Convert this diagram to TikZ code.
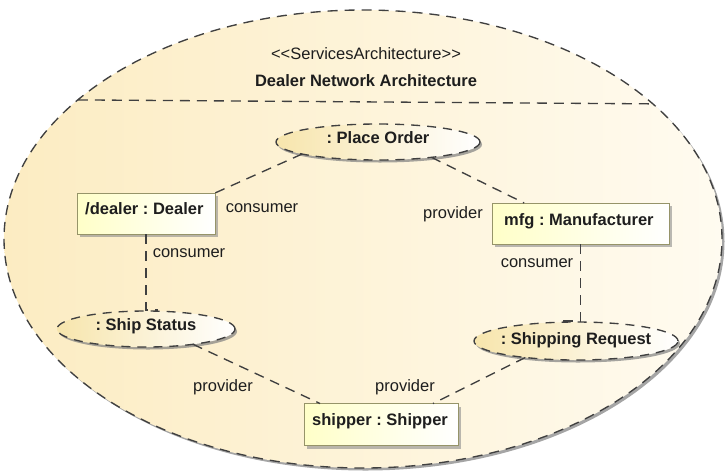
\documentclass[tikz,border=0pt]{standalone}
\usepackage{fontspec}
\setmainfont{Liberation Sans}
\usetikzlibrary{shapes.geometric,shadows,calc}
\frenchspacing
\definecolor{linegray}{HTML}{404040}
\definecolor{archleft}{RGB}{252,236,194}
\definecolor{archright}{RGB}{255,251,240}
\definecolor{ellleft}{RGB}{247,229,172}
\definecolor{boxyellow}{RGB}{255,255,200}
\definecolor{boxborder}{RGB}{150,148,105}
\definecolor{txt}{HTML}{1E1E1E}
\begin{document}
\begin{tikzpicture}[x=1pt,y=-1pt,
  conn/.style={draw=linegray, line width=1.35pt, dash pattern=on 10pt off 7pt},
  lbl/.style={font=\fontsize{16.5}{18}\selectfont, text=txt, inner sep=0pt, anchor=base},
  btxt/.style={font=\bfseries\fontsize{16.5}{18}\selectfont, text=txt, inner sep=0pt, anchor=base west},
  etxt/.style={font=\bfseries\fontsize{16.5}{18}\selectfont, text=txt, inner sep=0pt, anchor=base},
  partbox/.style={rectangle, draw=boxborder, line width=1pt, left color=boxyellow, right color=white,
    inner sep=0pt, outer sep=0pt,
    drop shadow={shadow xshift=3pt, shadow yshift=-3pt, fill=black!45, opacity=0.6}},
  usage/.style={ellipse, draw=linegray, line width=1.35pt, dash pattern=on 9pt off 7pt,
    left color=ellleft, right color=white, inner sep=0pt, outer sep=0pt,
    drop shadow={shadow xshift=2pt, shadow yshift=-2.5pt, fill=black!50, opacity=0.7}},
  archell/.style={ellipse, draw=linegray, line width=1.35pt, dash pattern=on 10pt off 7pt,
    left color=archleft, right color=archright, inner sep=0pt, outer sep=0pt,
    drop shadow={shadow xshift=2.5pt, shadow yshift=-2.5pt, fill=black!50, opacity=0.7}},
]
\useasboundingbox (0,0) rectangle (727,472);
\fill[white] (0,0) rectangle (727,472);

% container
\node[archell, minimum width=718pt, minimum height=458pt] (arch) at (363,239) {};
\draw[conn] (arch.154.08) -- (arch.25.92);
\node[lbl] (stereo) at (366,59) {<\kern0pt<ServicesArchitecture>\kern0pt>};
\node[lbl, font=\bfseries\fontsize{16.5}{18}\selectfont] (title) at (366,86) {Dealer Network Architecture};

% usages
\node[usage, minimum width=204pt, minimum height=36pt] (po) at (378,142) {};
\node[etxt] (potxt) at (378,143) {: Place Order};
\node[usage, minimum width=178pt, minimum height=36pt] (ss) at (146,329) {};
\node[etxt] (sstxt) at (146,330) {: Ship Status};
\node[usage, minimum width=204pt, minimum height=38pt] (sr) at (576,341) {};
\node[etxt] (srtxt) at (576,344) {: Shipping Request};

% parts
\node[partbox, minimum width=138pt, minimum height=41pt] (dealer) at (146,213.5) {};
\node[btxt] (dealertxt) at ($(dealer.north west)+(8,21)$) {/dealer : Dealer};
\node[partbox, minimum width=177pt, minimum height=41pt] (mfg) at (580.5,223.5) {};
\node[btxt] (mfgtxt) at ($(mfg.north west)+(12,22)$) {mfg : Manufacturer};
\node[partbox, minimum width=154pt, minimum height=42pt] (shipper) at (381,424.5) {};
\node[btxt] (shippertxt) at ($(shipper.north west)+(8,21.5)$) {shipper : Shipper};

% junctions
\coordinate (ssj) at (158,310);
\coordinate (srj) at (563,321);

% connectors
\draw[conn] (po.189) -- (dealer.north east);
\draw[conn] (po.344.6) -- (mfg.160.4);
\draw[conn] (dealer.south) |- (ssj);
\draw[conn] (mfg.south) |- (srj);
\draw[conn] (ss.342) -- (shipper.161.2);
\draw[conn] (sr.198.8) -- (shipper.22.5);

% role labels
\node[lbl] (l1) at (262,212.5) {consumer};
\node[lbl] (l2) at (453,218) {provider};
\node[lbl] (l3) at (189,257) {consumer};
\node[lbl] (l4) at (537,267) {consumer};
\node[lbl] (l5) at (223,391) {provider};
\node[lbl] (l6) at (405,391) {provider};
\end{tikzpicture}
\end{document}
